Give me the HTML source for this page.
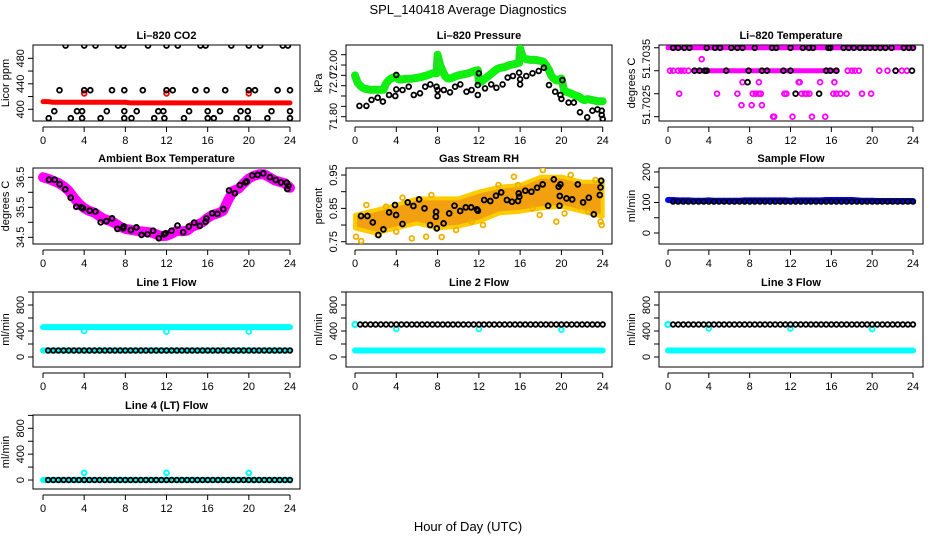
<!DOCTYPE html>
<html><head><meta charset="utf-8">
<style>
html,body{margin:0;padding:0;background:#fff;}
svg{display:block;font-family:"Liberation Sans",sans-serif;}
</style></head>
<body>
<svg id="chart" width="936" height="540" viewBox="0 0 936 540">
<text x="468" y="14" text-anchor="middle" font-size="13">SPL_140418  Average Diagnostics</text>
<text x="468" y="531" text-anchor="middle" font-size="13">Hour of Day (UTC)</text>
</svg>
<script>
// ---------- DATA ----------
const H49 = [0,0.5,1,1.5,2,2.5,3,3.5,4,4.5,5,5.5,6,6.5,7,7.5,8,8.5,9,9.5,10,10.5,11,11.5,12,12.5,13,13.5,14,14.5,15,15.5,16,16.5,17,17.5,18,18.5,19,19.5,20,20.5,21,21.5,22,22.5,23,23.5,24];
const AVG48 = [0.5,1,1.5,2,2.5,3,3.5,4,4.5,5,5.5,6,6.5,7,7.5,8,8.5,9,9.5,10,10.5,11,11.5,12,12.5,13,13.5,14,14.5,15,15.5,16,16.5,17,17.5,18,18.5,19,19.5,20,20.5,21,21.5,22,22.5,23,23.5,24];
const xTicks = [0,4,8,12,16,20,24];

// CO2
const co2Red = [412,412,411,411,411,411,411,411,411,411,411,411,411,411,411,411,411,410,410,410,410,410,410,410,410,410,410,410,410,410,410,410,410,410,410,410,410,410,410,410,410,410,410,410,410,410,410,410,410];
const co2RedOutH = [4,12,20];
const co2RedOutV = [425,425,425];
const co2BlackH = [2.2,4.0,5.1,7.3,7.8,10.2,12.0,13.1,15.3,15.8,18.3,20.0,21.1,23.3,23.8, 1.6,4.0,4.6,6.7,7.9,9.7,12.0,12.6,14.8,15.9,17.7,20.0,20.6,22.8,24.0, 1.1,3.3,3.8,6.2,7.9,9.1,11.2,11.7,14.2,16.0,17.2,19.2,19.9,22.2,24.0, 0.55,2.7,3.8,5.6,7.9,8.6,10.8,11.8,13.7,16.0,16.6,18.8,19.9,21.8,24.0];
const co2BlackV = [500,500,500,500,500,500,500,500,500,500,500,500,500,500,500, 430,430,430,430,430,430,430,430,430,430,430,430,430,430,430, 397,397,397,397,397,397,397,397,397,397,397,397,397,397,397, 386,386,386,386,386,386,386,386,386,386,386,386,386,386,386];

// Pressure
const presGreenH = [0,0.25,0.5,0.75,1,1.5,2,2.5,2.75,3,3.25,3.5,3.75,4,4.25,4.5,5,5.5,6,6.25,6.5,6.75,7,7.25,7.5,7.9,8,8.25,8.5,8.75,9,9.25,9.5,9.75,10,10.5,11,11.5,11.9,12,12.25,12.5,12.75,13,13.25,13.5,13.75,14,14.5,15,15.5,15.9,16,16.25,16.5,17,17.5,18,18.25,18.5,18.75,19,19.25,19.5,19.75,20,20.25,20.5,20.75,21,21.25,21.5,21.75,22,22.25,22.5,23,23.5,24];
const presGreenV = [72.00,71.965,71.95,71.94,71.935,71.93,71.93,71.93,71.93,71.96,71.975,71.985,71.99,71.995,71.98,71.98,71.984,71.984,71.988,71.99,71.993,71.997,72.0,72.005,72.01,72.01,72.10,72.05,72.02,71.995,71.985,71.985,71.99,71.995,72.0,72.005,72.01,72.02,72.025,71.97,71.97,71.98,71.99,72.0,72.01,72.02,72.03,72.035,72.04,72.05,72.055,72.06,72.13,72.09,72.08,72.075,72.075,72.07,72.065,72.05,72.03,72.0,71.985,71.975,71.98,71.985,71.93,71.92,71.915,71.91,71.905,71.9,71.895,71.885,71.88,71.885,71.88,71.875,71.875];
const presBlackH = [0.43,1.1,1.6,2.2,2.7,3.3,3.9,4.0,4.0,4.6,5.2,5.7,6.3,6.8,7.3,7.9,8.0,8.0,8.6,9.2,9.7,10.2,10.8,11.3,11.9,11.9,12.0,12.6,13.2,13.7,14.3,14.8,15.3,15.9,16.0,16.0,16.6,17.2,17.8,18.3,18.8,19.4,19.9,20.0,20.1,20.7,21.2,21.8,22.5,23.0,23.5,23.9,23.9,24.0];
const presBlackV = [71.852,71.852,71.881,71.892,71.873,71.905,71.9,71.932,72.002,71.929,71.945,71.905,71.913,71.945,71.956,71.945,71.929,71.9,71.929,71.918,71.945,71.956,71.921,71.929,71.905,71.953,72.01,71.937,71.956,71.94,71.956,71.989,71.997,72.013,71.981,71.956,71.997,72.01,72.021,72.037,71.953,71.921,71.905,71.886,71.977,71.868,71.868,71.821,71.797,71.829,71.835,71.829,71.808,71.789];

// Li-820 temperature
const tempTopV = [51.704,51.704,51.704,51.704,51.704,51.704,51.704,51.704,51.704,51.704,51.704,51.704,51.704,51.704,51.704,51.704,51.704,51.704,51.704,51.704,51.704,51.704,51.704,51.704,51.704,51.704,51.704,51.704,51.704,51.704,51.704,51.704,51.704,51.704,51.704,51.704,51.704,51.704,51.704,51.704,51.704,51.704,51.704,51.704,51.704,51.704,51.704,51.704,51.704];
const tempMidBandH = [2.5,3,3.5,4,4.5,5,5.5,6,6.5,7,7.5,8,8.5,9,9.5,10,10.5,11,11.5,12,12.5,13,13.5,14,14.5,15,15.5,16,16.5];
const tempMidBandV = [51.7035,51.7035,51.7035,51.7035,51.7035,51.7035,51.7035,51.7035,51.7035,51.7035,51.7035,51.7035,51.7035,51.7035,51.7035,51.7035,51.7035,51.7035,51.7035,51.7035,51.7035,51.7035,51.7035,51.7035,51.7035,51.7035,51.7035,51.7035,51.7035];
const tempMagH = [0.2,0.5,1.0,1.3,1.6,2.0,17.6,18.0,18.3,18.7,20.7,21.5,22.3,22.9,23.4, 3.3, 7.3,8.9,12.8,12.9,14.9,16.3, 1.1,4.8,6.8,8.3,8.6,8.9,9.1,11.4,11.6,13.1,13.4,13.6,13.85,16.2,16.5,16.9,17.5,19.0,19.9, 7.2,8.2,9.2, 10.3,10.4,12.2,14.1,15.4];
const tempMagV = [51.7035,51.7035,51.7035,51.7035,51.7035,51.7035,51.7035,51.7035,51.7035,51.7035,51.7035,51.7035,51.7035,51.7035,51.7035, 51.70375, 51.70325,51.70325,51.70325,51.70325,51.70325,51.70325, 51.703,51.703,51.703,51.703,51.703,51.703,51.703,51.703,51.703,51.703,51.703,51.703,51.703,51.703,51.703,51.703,51.703,51.703,51.703, 51.70275,51.70275,51.70275, 51.7025,51.7025,51.7025,51.7025,51.7025];
const tempBlackH = [0.5,1.0,1.6,2.1,3.8,4.6,5.1,6.2,6.8,7.3,8.5,10.2,10.6,12.0,13.2,13.8,14.2,15.7,15.9,17.2,17.7,18.2,18.8,19.3,19.8,20.3,20.8,21.3,21.9,23.1,23.6,24.0, 2.6,3.1,3.6,3.8,5.7,7.9,9.2,9.7,11.3,12.0,15.5,15.9,16.5,22.3,23.9, 7.8, 12.5,14.8];
const tempBlackV = [51.704,51.704,51.704,51.704,51.704,51.704,51.704,51.704,51.704,51.704,51.704,51.704,51.704,51.704,51.704,51.704,51.704,51.704,51.704,51.704,51.704,51.704,51.704,51.704,51.704,51.704,51.704,51.704,51.704,51.704,51.704,51.704, 51.7035,51.7035,51.7035,51.7035,51.7035,51.7035,51.7035,51.7035,51.7035,51.7035,51.7035,51.7035,51.7035,51.7035,51.7035, 51.70325, 51.703,51.703];

// Ambient box temperature
const ambMag = [36.5,36.45,36.38,36.31,36.2,36.05,35.82,35.62,35.47,35.38,35.32,35.2,35.1,35.05,34.97,34.85,34.78,34.75,34.72,34.7,34.68,34.66,34.6,34.54,34.55,34.62,34.72,34.7,34.72,34.85,34.92,35.0,35.15,35.25,35.3,35.38,35.75,36.05,36.12,36.3,36.46,36.55,36.6,36.6,36.5,36.4,36.35,36.3,36.15];
const ambBlackH = [0.58,1.14,1.62,2.17,2.69,3.24,3.73,3.89,4.54,5.09,5.61,6.16,6.71,7.23,7.78,7.85,8.53,9.08,9.57,10.15,10.7,11.25,11.77,11.9,12.49,13.07,13.62,14.17,14.69,15.24,15.8,15.89,16.44,16.96,17.52,18.07,18.65,19.14,19.69,19.79,20.34,20.86,21.41,22.06,22.61,23.13,23.68,23.74,23.84];
const ambBlackV = [36.42,36.42,36.27,36.1,35.82,35.52,35.5,35.47,35.39,35.36,35.0,35.04,35.13,34.78,34.8,34.86,34.74,34.83,34.58,34.6,34.72,34.47,34.6,34.63,34.72,34.89,34.67,34.86,34.99,34.88,35.02,35.13,35.3,35.28,35.44,36.06,35.97,36.24,36.33,36.36,36.56,36.58,36.63,36.5,36.41,36.33,36.32,36.11,36.22];

// Gas stream RH
const rhBandH = [0,2,4,6,8,10,12,14,16,18,20,22,24];
const rhUpper = [0.83,0.845,0.86,0.88,0.88,0.88,0.90,0.915,0.92,0.945,0.945,0.93,0.93];
const rhLower = [0.79,0.775,0.79,0.805,0.79,0.795,0.81,0.835,0.84,0.85,0.855,0.84,0.825];
const rhOutH = [0.1,0.6,1.1,2.2,3.0,4.0,4.6,5.5,6.9,7.4,8.4,9.8,11.3,12.4,13.9,15.4,15.8,17.2,17.9,18.2,19.5,20.3,20.9,21.7,22.6,23.3,23.8,23.9];
const rhOutV = [0.765,0.752,0.86,0.77,0.855,0.78,0.882,0.76,0.765,0.89,0.764,0.785,0.81,0.8,0.92,0.945,0.92,0.85,0.83,0.965,0.81,0.835,0.95,0.855,0.84,0.935,0.81,0.8];
const rhBlackH = [0.58,1.2,1.72,2.27,2.75,3.3,3.88,3.98,4.6,5.11,5.66,6.21,6.73,7.28,7.83,7.86,7.93,8.58,9.13,9.64,10.19,10.74,11.26,11.81,11.91,12.52,13.11,13.66,14.17,14.72,15.21,15.79,15.86,15.92,16.5,17.09,17.64,18.19,18.71,19.26,19.74,19.81,19.84,19.9,20.49,21.04,21.59,22.1,22.65,23.14,23.72,23.79,23.85];
const rhBlackV = [0.827,0.827,0.808,0.77,0.787,0.838,0.86,0.83,0.803,0.868,0.857,0.877,0.85,0.80,0.825,0.84,0.79,0.805,0.835,0.858,0.842,0.853,0.853,0.847,0.843,0.875,0.872,0.888,0.898,0.875,0.87,0.872,0.895,0.885,0.903,0.9,0.912,0.922,0.858,0.937,0.915,0.858,0.887,0.922,0.88,0.877,0.922,0.868,0.882,0.832,0.89,0.913,0.933];

// Sample flow
const sampleBlue = [108,108,107,107,107,106,106,106,107,106,106,106,106,106,106,107,107,107,107,107,107,107,107,107,106,107,107,107,107,107,107,108,108,108,108,108,108,107,106,106,106,105,105,105,105,105,105,105,105];
const sampleBlack = [103,103,103,103,103,103,103,103,103,103,103,103,103,103,103,103,103,103,103,103,103,103,103,103,103,103,103,103,103,103,103,103,103,103,103,103,103,103,103,103,103,103,103,103,103,103,103,103];

// Line flows
const line1CyanHi = [460,460,460,460,460,460,460,460,460,460,460,460,460,460,460,460,460,460,460,460,460,460,460,460,460,460,460,460,460,460,460,460,460,460,460,460,460,460,460,460,460,460,460,460,460,460,460,460,460];
const line1CyanLo = [100,100,100,100,100,100,100,100,100,100,100,100,100,100,100,100,100,100,100,100,100,100,100,100,100,100,100,100,100,100,100,100,100,100,100,100,100,100,100,100,100,100,100,100,100,100,100,100,100];
const line1Black = [100,100,100,100,100,100,100,100,100,100,100,100,100,100,100,100,100,100,100,100,100,100,100,100,100,100,100,100,100,100,100,100,100,100,100,100,100,100,100,100,100,100,100,100,100,100,100,100];
const line1OutV = [400,390,390];
const line2CyanLo = [100,100,100,100,100,100,100,100,100,100,100,100,100,100,100,100,100,100,100,100,100,100,100,100,100,100,100,100,100,100,100,100,100,100,100,100,100,100,100,100,100,100,100,100,100,100,100,100,100];
const line2Black = [500,500,500,500,500,500,500,500,500,500,500,500,500,500,500,500,500,500,500,500,500,500,500,500,500,500,500,500,500,500,500,500,500,500,500,500,500,500,500,500,500,500,500,500,500,500,500,500];
const line2OutV = [430,430,420];
const line3CyanLo = [100,100,100,100,100,100,100,100,100,100,100,100,100,100,100,100,100,100,100,100,100,100,100,100,100,100,100,100,100,100,100,100,100,100,100,100,100,100,100,100,100,100,100,100,100,100,100,100,100];
const line3Black = [500,500,500,500,500,500,500,500,500,500,500,500,500,500,500,500,500,500,500,500,500,500,500,500,500,500,500,500,500,500,500,500,500,500,500,500,500,500,500,500,500,500,500,500,500,500,500,500];
const line3OutV = [440,440,430];
const line4Cyan = [0,0,0,0,0,0,0,0,0,0,0,0,0,0,0,0,0,0,0,0,0,0,0,0,0,0,0,0,0,0,0,0,0,0,0,0,0,0,0,0,0,0,0,0,0,0,0,0,0];
const line4Black = [0,0,0,0,0,0,0,0,0,0,0,0,0,0,0,0,0,0,0,0,0,0,0,0,0,0,0,0,0,0,0,0,0,0,0,0,0,0,0,0,0,0,0,0,0,0,0,0];
const line4OutV = [110,110,110];
const outH = [4,12,20];

// ---------- RENDER ----------
const NS = 'http://www.w3.org/2000/svg';
const svg = document.getElementById('chart');
const cols = [{l:33,r:300,x0:43,x24:290},{l:346,r:612,x0:355,x24:602.7},{l:659,r:923,x0:668,x24:913}];
const rows = [{t:45,b:121},{t:168,b:244},{t:292,b:367},{t:415,b:489}];

function mk(tag, attrs, parent){
  const e = document.createElementNS(NS, tag);
  for (const k in attrs) e.setAttribute(k, attrs[k]);
  (parent||svg).appendChild(e);
  return e;
}

function panel(name, title, ytitle, ci, ri, ymin, ymax, yTicks, yLabels, yLabelVals){
  const c = cols[ci], r = rows[ri];
  const g = mk('g', {});
  
  
  const xs = h => c.x0 + (c.x24 - c.x0) * h / 24;
  const ys = v => r.b - (v - ymin) / (ymax - ymin) * (r.b - r.t);
  const box = mk('rect', {x:c.l, y:r.t, width:c.r-c.l, height:r.b-r.t, fill:'none', stroke:'#000', 'stroke-width':1}, g);
  
  
  const tt = mk('text', {x:(c.l+c.r)/2, y:r.t-6, 'text-anchor':'middle', 'font-size':11, 'font-weight':'bold'}, g);
  tt.textContent = title;
  
  
  const ax = r.b + 6;
  const xl = mk('line', {x1:xs(0), x2:xs(24), y1:ax, y2:ax, stroke:'#000'}, g);
  
  
  xTicks.forEach(h => {
    mk('line', {x1:xs(h), x2:xs(h), y1:ax, y2:ax+5, stroke:'#000'}, g);
    const t = mk('text', {x:xs(h), y:ax+17, 'text-anchor':'middle', 'font-size':11}, g);
    t.textContent = h;
    
    
  });
  const yl = mk('line', {x1:c.l, x2:c.l, y1:ys(yTicks[0]), y2:ys(yTicks[yTicks.length-1]), stroke:'#000'}, g);
  
  
  yTicks.forEach(v => { mk('line', {x1:c.l-5, x2:c.l, y1:ys(v), y2:ys(v), stroke:'#000'}, g); });
  yLabels.forEach((lab, i) => {
    const yy = ys(yLabelVals[i]);
    const t = mk('text', {x:c.l-9, y:yy, 'text-anchor':'middle', 'font-size':11, transform:'rotate(-90 '+(c.l-9)+' '+yy+')'}, g);
    t.textContent = lab;
    
    
  });
  const ym = (r.t + r.b) / 2, yx = c.l - 24;
  const yt = mk('text', {x:yx, y:ym, 'text-anchor':'middle', 'font-size':11, transform:'rotate(-90 '+yx+' '+ym+')'}, g);
  yt.textContent = ytitle;
  
  
  const clip = 'clip-' + name;
  const cp = mk('clipPath', {id:clip}, g);
  mk('rect', {x:c.l, y:r.t, width:c.r-c.l, height:r.b-r.t}, cp);
  const plot = mk('g', {'clip-path':'url(#'+clip+')'}, g);
  
  
  return {xs, ys, g:plot, name};
}

function band(p, hs, vs, color, w, label){
  const pts = hs.map((h,i) => p.xs(h).toFixed(1) + ',' + p.ys(vs[i]).toFixed(1)).join(' ');
  const e = mk('polyline', {points:pts, fill:'none', stroke:color, 'stroke-width':w, 'stroke-linecap':'round', 'stroke-linejoin':'round'}, p.g);
  
  
}
function points(p, hs, vs, color, rad, sw, label){
  const g = mk('g', {}, p.g);
  
  
  hs.forEach((h,i) => {
    const c = mk('circle', {cx:p.xs(h).toFixed(1), cy:p.ys(vs[i]).toFixed(1), r:rad, fill:'none', stroke:color, 'stroke-width':sw}, g);
    
    
  });
}

let p = panel('co2', 'Li\u2013820 CO2', 'Licor ppm', 0, 0, 381.6, 500.9, [400,420,440,460,480], ['400','440','480'], [400,440,480]);
band(p, H49, co2Red, '#ff0000', 5, 'red-series');
points(p, co2RedOutH, co2RedOutV, '#ff0000', 2.4, 1.8, 'red-outliers');
points(p, co2BlackH, co2BlackV, '#000', 2.4, 1.8, 'black-series');

p = panel('pressure', 'Li\u2013820 Pressure', 'kPa', 1, 0, 71.779, 72.147, [71.80,71.85,71.90,71.95,72.00,72.05,72.10], ['71.80','72.0','72.00'], [71.80,71.961,72.058]);
band(p, presGreenH, presGreenV, '#22dd22', 8, 'green-series');
points(p, presGreenH, presGreenV, '#00ff00', 2.4, 1.4, 'green-points');
points(p, presBlackH, presBlackV, '#000', 2.4, 1.8, 'black-series');

p = panel('li820-temp', 'Li\u2013820 Temperature', 'degrees C', 2, 0, 51.702406, 51.70406, [51.7025,51.7030,51.7035,51.7040], ['51.7025','51.7035'], [51.70276,51.70376]);
band(p, H49, tempTopV, '#ff00ff', 5, 'magenta-top-band');
band(p, tempMidBandH, tempMidBandV, '#ff00ff', 5, 'magenta-mid-band');
points(p, tempMagH, tempMagV, '#ff00ff', 2.4, 1.8, 'magenta-series');
points(p, tempBlackH, tempBlackV, '#000', 2.4, 1.8, 'black-series');

p = panel('ambient-temp', 'Ambient Box Temperature', 'degrees C', 0, 1, 34.277, 36.81, [34.5,35.0,35.5,36.0,36.5], ['34.5','35.5','36.5'], [34.5,35.5,36.5]);
band(p, H49, ambMag, '#ff00ff', 10, 'magenta-series');
points(p, ambBlackH, ambBlackV, '#000', 2.4, 1.9, 'black-series');

p = panel('gas-rh', 'Gas Stream RH', 'percent', 1, 1, 0.7431, 0.9711, [0.75,0.80,0.85,0.90,0.95], ['0.75','0.85','0.95'], [0.75,0.85,0.95]);
{
  const up = rhBandH.map((h,i) => p.xs(h).toFixed(1) + ',' + p.ys(rhUpper[i]).toFixed(1));
  const lo = rhBandH.map((h,i) => p.xs(h).toFixed(1) + ',' + p.ys(rhLower[i]).toFixed(1)).reverse();
  const poly = mk('polygon', {points: up.concat(lo).join(' '), fill:'#f2a010', stroke:'#ffcc00', 'stroke-width':4, 'stroke-linejoin':'round'}, p.g);
  
  
}
points(p, rhOutH, rhOutV, '#f0b000', 2.4, 1.8, 'orange-outliers');
points(p, rhBlackH, rhBlackV, '#000', 2.4, 1.9, 'black-series');

p = panel('sample-flow', 'Sample Flow', 'ml/min', 2, 1, -36, 213, [0,50,100,150,200], ['0','100','200'], [0,100,200]);
band(p, H49, sampleBlue, '#0000ff', 6, 'blue-series');
points(p, AVG48, sampleBlack, '#000', 2.3, 1.8, 'black-series');

const flowTicks = [0,200,400,600,800,1000];
p = panel('line1-flow', 'Line 1 Flow', 'ml/min', 0, 2, -154, 1000, flowTicks, ['0','400','800'], [0,400,800]);
band(p, H49, line1CyanHi, '#00ffff', 6, 'cyan-high-series');
band(p, H49, line1CyanLo, '#00ffff', 6, 'cyan-low-series');
points(p, outH, line1OutV, '#00ffff', 2.4, 1.8, 'cyan-outliers');
points(p, AVG48, line1Black, '#000', 2.3, 1.8, 'black-series');

p = panel('line2-flow', 'Line 2 Flow', 'ml/min', 1, 2, -154, 1000, flowTicks, ['0','400','800'], [0,400,800]);
band(p, H49, line2CyanLo, '#00ffff', 6, 'cyan-low-series');
points(p, [0], [500], '#00ffff', 2.5, 2.2, 'cyan-start');
points(p, outH, line2OutV, '#00ffff', 2.4, 1.8, 'cyan-outliers');
points(p, AVG48, line2Black, '#000', 2.3, 1.8, 'black-series');

p = panel('line3-flow', 'Line 3 Flow', 'ml/min', 2, 2, -154, 1000, flowTicks, ['0','400','800'], [0,400,800]);
band(p, H49, line3CyanLo, '#00ffff', 6, 'cyan-low-series');
points(p, [0], [500], '#00ffff', 2.5, 2.2, 'cyan-start');
points(p, outH, line3OutV, '#00ffff', 2.4, 1.8, 'cyan-outliers');
points(p, AVG48, line3Black, '#000', 2.3, 1.8, 'black-series');

p = panel('line4-flow', 'Line 4 (LT) Flow', 'ml/min', 0, 3, -139, 1006, flowTicks, ['0','400','800'], [0,400,800]);
band(p, H49, line4Cyan, '#00ffff', 6, 'cyan-series');
points(p, outH, line4OutV, '#00ffff', 2.4, 2, 'cyan-outliers');
points(p, AVG48, line4Black, '#000', 2.3, 1.8, 'black-series');
</script>
</body></html>
